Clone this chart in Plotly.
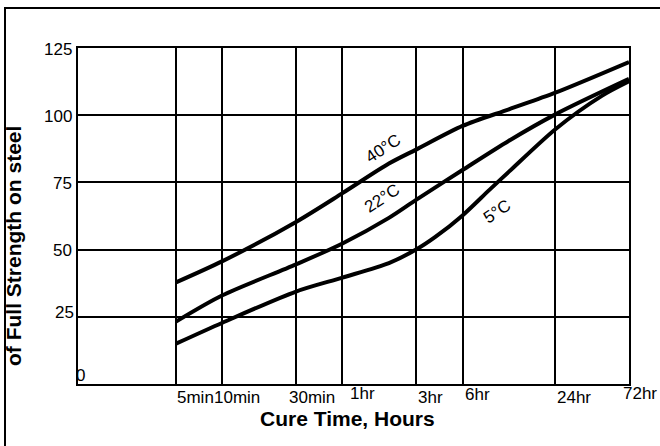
import math
import plotly.graph_objects as go

# ---- data (cure time in minutes, strength in % of full strength on steel) ----
times_40C = [5, 10, 30, 60, 120, 180, 360, 720, 1440, 4320]
strength_40C = [37.8, 45.7, 60.3, 71.0, 82.0, 87.2, 96.0, 102.2, 108.4, 119.8]

times_22C = [5, 10, 30, 60, 120, 180, 360, 720, 1440, 4320]
strength_22C = [23.2, 33.0, 44.5, 52.3, 61.8, 68.5, 79.6, 90.5, 100.3, 113.5]

times_5C = [5, 10, 30, 60, 120, 180, 240, 360, 540, 720, 1440, 2880, 4320]
strength_5C = [15.0, 22.8, 34.4, 39.6, 45.0, 50.0, 54.7, 62.7, 72.3, 79.0, 94.8, 107.2, 112.6]

x_tick_minutes = [5, 10, 30, 60, 180, 360, 1440, 4320]
x_tick_labels = ["5min", "10min", "30min", "1hr", "3hr", "6hr", "24hr", "72hr"]
y_tick_values = [0, 25, 50, 75, 100, 125]
y_tick_labels = ["0", "25", "50", "75", "100", "125"]

series_labels = ["40°C", "22°C", "5°C"]
label_times = [110, 108, 605]
label_values = [87.7, 69.1, 64.1]

# ---- styling / layout helpers ----
FONT = "Arial, 'Liberation Sans', sans-serif"
W, H = 660, 446
ML, MR, MT, MB = 78, 31, 48, 62
PW, PH = W - ML - MR, H - MT - MB
x_label_xshift = [0, -9, -8, 7, 1, 1, 1, -7]
x_label_yshift = [-13, -13, -13, -9, -13, -10, -13, -9]

fig = go.Figure()
for t, v in [(times_40C, strength_40C), (times_22C, strength_22C), (times_5C, strength_5C)]:
    fig.add_trace(go.Scatter(
        x=t, y=v, mode="lines",
        line=dict(color="black", width=4, shape="spline", smoothing=0.8),
        showlegend=False, hoverinfo="skip"))

annotations = []
# x tick labels
for tm, lab, dx, dy in zip(x_tick_minutes, x_tick_labels, x_label_xshift, x_label_yshift):
    annotations.append(dict(x=math.log10(tm), y=0, xref="x", yref="paper",
                            text=lab, showarrow=False, xanchor="left", yanchor="middle",
                            xshift=dx, yshift=dy, borderpad=0,
                            font=dict(family=FONT, size=17, color="black")))
# y tick labels
for val, lab in zip(y_tick_values, y_tick_labels):
    if lab == "0":
        annotations.append(dict(x=0, y=val, xref="paper", yref="y", text=lab,
                                showarrow=False, xanchor="left", yanchor="bottom",
                                xshift=-4, yshift=-3,
                                font=dict(family=FONT, size=17, color="black")))
    else:
        annotations.append(dict(x=0, y=val, xref="paper", yref="y", text=lab,
                                showarrow=False, xanchor="right", yanchor="middle",
                                xshift=(-2 if lab == "25" else -4),
                                yshift=(4 if lab == "25" else -1),
                                font=dict(family=FONT, size=17, color="black")))
# curve labels
for lab, tm, val in zip(series_labels, label_times, label_values):
    annotations.append(dict(x=math.log10(tm), y=val, xref="x", yref="y", text=lab,
                            showarrow=False, textangle=-33,
                            xanchor="center", yanchor="middle",
                            font=dict(family=FONT, size=17, color="black")))
# axis titles
annotations.append(dict(x=(347 - ML) / PW, y=(MT + PH - 418) / PH, xref="paper", yref="paper",
                        text="<b>Cure Time, Hours</b>", showarrow=False,
                        xanchor="center", yanchor="middle", borderpad=0,
                        font=dict(family=FONT, size=21, color="black")))
annotations.append(dict(x=(13 - ML) / PW, y=(MT + PH - 246) / PH, xref="paper", yref="paper",
                        text="<b>of Full Strength on steel</b>", showarrow=False, textangle=-90,
                        xanchor="center", yanchor="middle",
                        font=dict(family=FONT, size=21, color="black")))

fig.update_layout(
    width=W, height=H,
    margin=dict(l=ML, r=MR, t=MT, b=MB),
    paper_bgcolor="white", plot_bgcolor="white",
    showlegend=False,
    annotations=annotations,
    shapes=[dict(type="rect", xref="paper", yref="paper",
                 x0=(5 - ML) / PW, x1=1.3, y0=-0.5, y1=(MT + PH - 8) / PH,
                 line=dict(color="black", width=2), layer="below")],
    xaxis=dict(type="log", range=[0.0637, 3.6355], tickvals=x_tick_minutes,
               showticklabels=False, ticks="", showgrid=True, gridcolor="black",
               gridwidth=2, showline=True, linecolor="black", linewidth=2,
               mirror=True, zeroline=False, fixedrange=True),
    yaxis=dict(range=[0, 125], tickvals=[25, 50, 75, 100], showticklabels=False,
               ticks="", showgrid=True, gridcolor="black", gridwidth=2,
               showline=True, linecolor="black", linewidth=2, mirror=True,
               zeroline=False, fixedrange=True),
)

fig.write_html("out.html", config={"displayModeBar": False},
               post_script="document.body.style.margin='0';document.body.style.overflow='hidden';")
